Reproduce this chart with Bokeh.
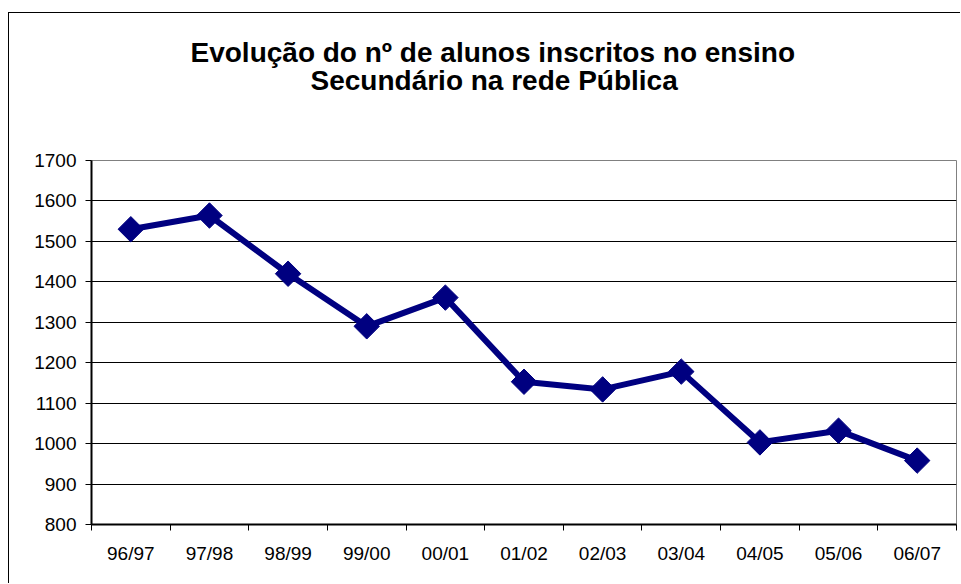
import numpy as np
from bokeh.plotting import figure
from bokeh.models import FixedTicker, Range1d, Title, ColumnDataSource
from bokeh.embed import file_html
from bokeh.resources import INLINE

# ---- data ----
categories = ["96/97", "97/98", "98/99", "99/00", "00/01", "01/02",
              "02/03", "03/04", "04/05", "05/06", "06/07"]
alunos = [1530, 1564, 1420, 1290, 1361, 1153, 1134, 1178, 1003, 1032, 958]
y_ticks = [800, 900, 1000, 1100, 1200, 1300, 1400, 1500, 1600, 1700]
title_lines = ["Evolução do nº de alunos inscritos no ensino",
               "Secundário na rede Pública"]

FONT = "Liberation Sans"

xpos = [i + 0.5 for i in range(len(categories))]
src = ColumnDataSource(dict(x=xpos, y=alunos, cat=categories))

p = figure(width=952, height=583, output_backend="svg", toolbar_location=None,
           x_range=Range1d(0, len(categories)), y_range=Range1d(y_ticks[0], y_ticks[-1]),
           min_border_left=83, min_border_right=4, min_border_top=160, min_border_bottom=59)
p.margin = (0, 0, 0, 8)
# outer chart-area border (top and left edges; the rest lies outside the window)
p.styles = {
    "background": "linear-gradient(#000, #000) 0 12px / 100% 1px no-repeat, "
                  "linear-gradient(#000, #000) 0 12px / 1px 100% no-repeat, #fff"
}

p.background_fill_color = "white"
p.border_fill_color = None
p.outline_line_color = "#808080"
p.outline_line_width = 1

# grid
p.xgrid.grid_line_color = None
p.ygrid.grid_line_color = "#000000"
p.ygrid.grid_line_width = 1

# x axis: labels at centres, ticks at category boundaries
p.xaxis.ticker = FixedTicker(ticks=xpos, minor_ticks=list(range(len(categories) + 1)))
p.xaxis.major_label_overrides = {x: c for x, c in zip(xpos, categories)}
p.xaxis.major_tick_out = 0
p.xaxis.major_tick_in = 0
p.xaxis.minor_tick_out = 6
p.xaxis.minor_tick_in = 0
p.xaxis.minor_tick_line_color = "#000"
p.xaxis.minor_tick_line_width = 1
p.xaxis.major_label_standoff = 12

# y axis
p.yaxis.ticker = FixedTicker(ticks=y_ticks)
p.yaxis.minor_tick_line_color = None
p.yaxis.major_tick_out = 6
p.yaxis.major_tick_in = 0
p.yaxis.major_tick_line_color = "#000"
p.yaxis.major_label_standoff = 9

for ax in (p.xaxis, p.yaxis):
    ax.axis_line_color = "#000"
    ax.axis_line_width = 2
    ax.major_label_text_font = FONT
    ax.major_label_text_font_size = "19px"
    ax.major_label_text_color = "#000"

# series
p.line("x", "y", source=src, line_color="#000080", line_width=6)
p.scatter("x", "y", source=src, marker="square", angle=np.pi / 4, size=18,
          fill_color="#000080", line_color="#000080")

# title (two lines, added bottom line first so it sits nearest the frame)
t2 = Title(text=title_lines[1], align="left", offset=219, vertical_align="top",
           standoff=126, text_font=FONT, text_font_size="28px",
           text_font_style="bold", text_color="#000")
t1 = Title(text=title_lines[0], align="left", offset=99, vertical_align="bottom",
           standoff=-132, text_font=FONT, text_font_size="28px",
           text_font_style="bold", text_color="#000")
p.add_layout(t2, "above")
p.add_layout(t1, "above")

open("out.html", "w").write(file_html(p, INLINE))
